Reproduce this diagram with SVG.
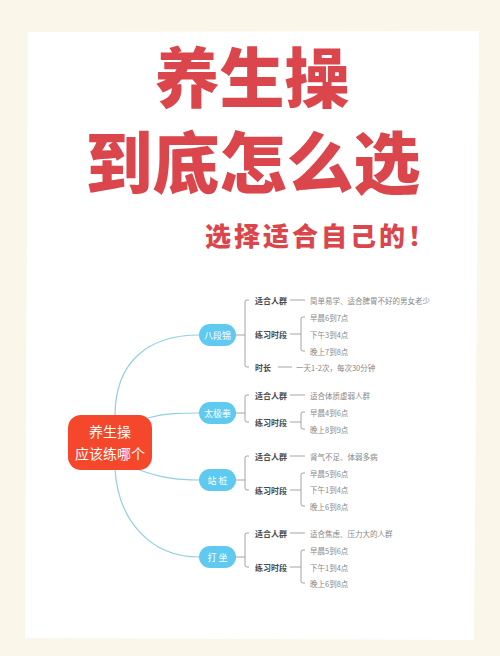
<svg xmlns="http://www.w3.org/2000/svg" width="500" height="656" viewBox="0 0 500 656">
<style>
.cjk{font-family:"Noto Sans CJK SC","Noto Sans",sans-serif}
.title{fill:#da464b;font-weight:900;text-anchor:middle}
.curve{fill:none;stroke:#8fd0e2;stroke-width:1.2}
.br{fill:none;stroke:#9a9a9a;stroke-width:0.9}
.node{fill:#5fc9ef}
.ntext{fill:#fff;font-size:9px;text-anchor:middle;dominant-baseline:central}
.lab{fill:#4a4a4a;font-size:8px;font-weight:700;dominant-baseline:central}
.val{fill:#888;font-size:7.5px;dominant-baseline:central}
</style>
<rect x="0" y="0" width="500" height="656" fill="#faf6e9"/>
<polygon points="28,32 479,31 474,640 25,638" fill="#ffffff"/>
<text class="cjk title" x="252" y="102" font-size="65">养生操</text>
<text class="cjk title" x="253" y="188" font-size="67">到底怎么选</text>
<text class="cjk title" x="205" y="246" font-size="26" letter-spacing="3" style="text-anchor:start">选择适合自己的！</text>

<g id="connectors">
<path class="curve" d="M115,416 C115,360 150,335 199,335"/>
<path class="curve" d="M148,418 C165,413 180,413 199,413"/>
<path class="curve" d="M137,469 C160,478 178,480 199,480"/>
<path class="curve" d="M115,469 C118,520 150,557 199,557"/>
<!-- 八段锦 -->
<path class="br" d="M236,335 H245 M249,300 H247 Q245,300 245,302 V365 Q245,367 247,367 H249"/>
<path class="br" d="M290,300 H305 M290,334 H301 M305,317 H303 Q301,317 301,319 V349 Q301,351 303,351 H305 M278,367 H292"/>
<!-- 太极拳 -->
<path class="br" d="M236,413 H245 M249,395 H247 Q245,395 245,397 V420 Q245,422 247,422 H249"/>
<path class="br" d="M290,395 H305 M290,422 H301 M305,412 H303 Q301,412 301,414 V427 Q301,429 303,429 H305"/>
<!-- 站桩 -->
<path class="br" d="M236,480 H245 M249,456 H247 Q245,456 245,458 V488 Q245,490 247,490 H249"/>
<path class="br" d="M290,456 H305 M290,490 H301 M305,473 H303 Q301,473 301,475 V504 Q301,506 303,506 H305"/>
<!-- 打坐 -->
<path class="br" d="M236,557 H245 M249,533 H247 Q245,533 245,535 V565 Q245,567 247,567 H249"/>
<path class="br" d="M290,533 H305 M290,567 H301 M305,550 H303 Q301,550 301,552 V581 Q301,583 303,583 H305"/>
</g>

<g id="root">
<rect x="68" y="415" width="84" height="55" rx="13" fill="#f4472c"/>
<text class="cjk" x="110" y="437" font-size="14" fill="#fff" text-anchor="middle">养生操</text>
<text class="cjk" x="110" y="459" font-size="14" fill="#fff" text-anchor="middle">应该练哪个</text>
</g>

<g id="baduanjin">
<rect class="node" x="199" y="324" width="37" height="22" rx="11"/>
<text class="cjk ntext" x="217.5" y="335">八段锦</text>
<text class="cjk lab" x="255" y="300">适合人群</text>
<text class="cjk val" x="310" y="300">简单易学、适合脾胃不好的男女老少</text>
<text class="cjk lab" x="255" y="334">练习时段</text>
<text class="cjk val" x="310" y="317">早晨6到7点</text>
<text class="cjk val" x="310" y="334">下午3到4点</text>
<text class="cjk val" x="310" y="351">晚上7到8点</text>
<text class="cjk lab" x="255" y="367">时长</text>
<text class="cjk val" x="296" y="367">一天1-2次，每次30分钟</text>
</g>

<g id="taijiquan">
<rect class="node" x="199" y="402" width="37" height="22" rx="11"/>
<text class="cjk ntext" x="217.5" y="413">太极拳</text>
<text class="cjk lab" x="255" y="395">适合人群</text>
<text class="cjk val" x="310" y="395">适合体质虚弱人群</text>
<text class="cjk lab" x="255" y="422">练习时段</text>
<text class="cjk val" x="310" y="412">早晨4到6点</text>
<text class="cjk val" x="310" y="429">晚上8到9点</text>
</g>

<g id="zhanzhuang">
<rect class="node" x="199" y="469" width="37" height="22" rx="11"/>
<text class="cjk ntext" x="217.5" y="480">站  桩</text>
<text class="cjk lab" x="255" y="456">适合人群</text>
<text class="cjk val" x="310" y="456">肾气不足、体弱多病</text>
<text class="cjk lab" x="255" y="490">练习时段</text>
<text class="cjk val" x="310" y="473">早晨5到6点</text>
<text class="cjk val" x="310" y="489">下午1到4点</text>
<text class="cjk val" x="310" y="506">晚上6到8点</text>
</g>

<g id="dazuo">
<rect class="node" x="199" y="546" width="37" height="22" rx="11"/>
<text class="cjk ntext" x="217.5" y="557">打  坐</text>
<text class="cjk lab" x="255" y="533">适合人群</text>
<text class="cjk val" x="310" y="533">适合焦虑、压力大的人群</text>
<text class="cjk lab" x="255" y="567">练习时段</text>
<text class="cjk val" x="310" y="550">早晨5到6点</text>
<text class="cjk val" x="310" y="567">下午1到4点</text>
<text class="cjk val" x="310" y="583">晚上6到8点</text>
</g>
</svg>
